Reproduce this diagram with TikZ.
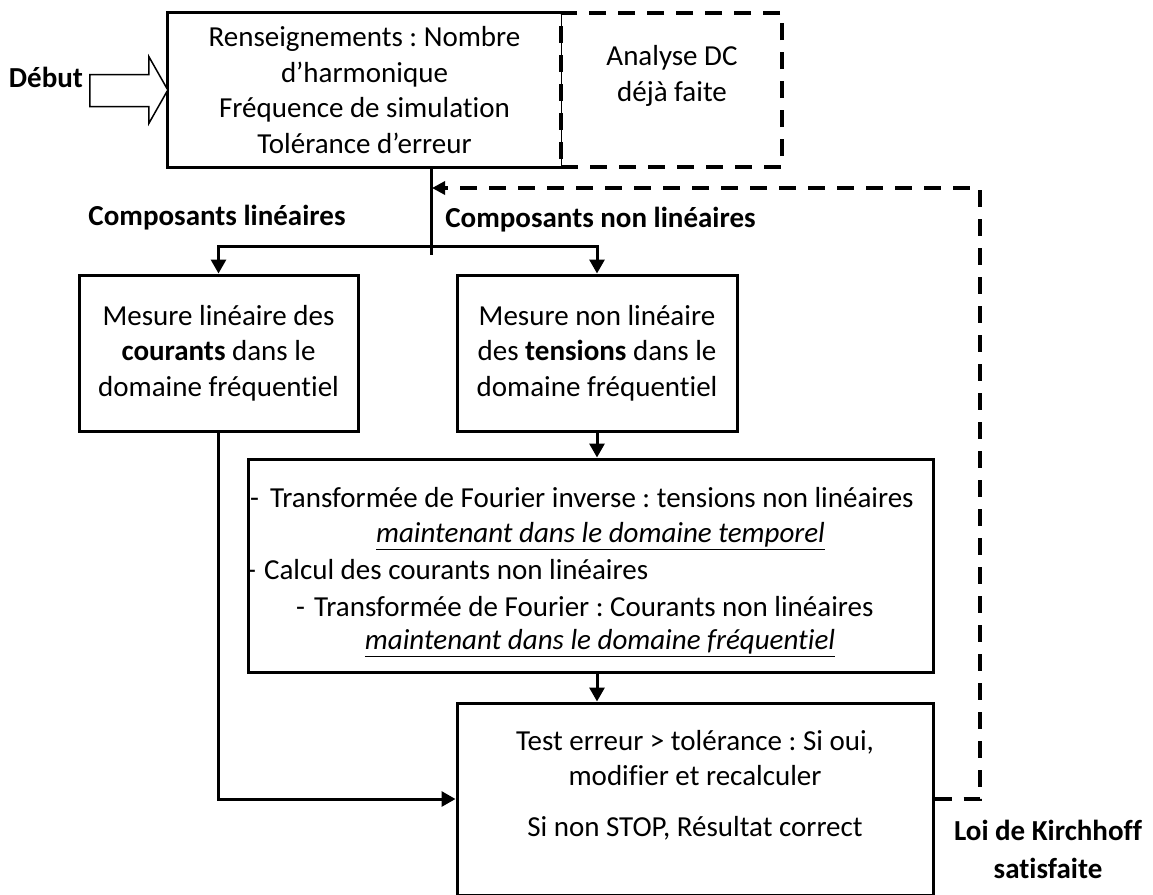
\documentclass[tikz,border=0pt]{standalone}
\usepackage{fontspec}
\setmainfont{Carlito}[Ligatures={NoCommon}]
\usetikzlibrary{arrows.meta}
\frenchspacing
\tikzset{
  every node/.style={font=\fontsize{29}{35.5}\selectfont, inner sep=0pt},
  blk/.style={draw=black, line width=3pt, inner sep=0pt, align=center},
  lbl/.style={font=\fontsize{29}{38}\selectfont\bfseries, align=center, inner sep=0pt},
  txt/.style={align=center, inner sep=0pt},
  conn/.style={line width=3pt},
  arr/.style={line width=3pt, -{Triangle[length=14pt,width=15pt]}},
  dsh/.style={line width=3.5pt, dash pattern=on 17pt off 12pt},
}
\begin{document}
\begin{tikzpicture}[x=1pt,y=-1pt]
\useasboundingbox (0,0) rectangle (1153,894);
\clip (0,0) rectangle (1153,894);

% top box
\node[txt, minimum width=393pt, minimum height=154pt] (top) at (364.5,90)
  {Renseignements : Nombre\\ d’harmonique\\ Fréquence de simulation\\ Tolérance d’erreur};
\draw[line width=3pt] (top.north east) -- (top.north west) -- (top.south west) -- (top.south east);
\draw[line width=1.2pt] (top.south east) -- (top.north east);

% dashed DC box
\node[draw, dsh, minimum width=221pt, minimum height=154pt] (dc) at (671.5,90) {};
\node[txt] (dctxt) at (672,76) {Analyse DC\\ déjà faite};

% start arrow
\node[lbl] (debut) at (46,77) {Début};
\draw[line width=1.5pt, fill=white] (top.west) -- ++(-19,-33.5) -- ++(0,18) -- ++(-59,0)
  -- ++(0,32) -- ++(59,0) -- ++(0,17) -- cycle;

% branch labels
\node[lbl] (cl) at (217,218) {Composants linéaires};
\node[lbl] (cnl) at (600.5,220) {Composants non linéaires};

\coordinate (split) at (431,246);
\coordinate (splitend) at (431,255);
\draw[conn] (top.south -| split) -- (splitend);

% measurement boxes
\node[blk, minimum width=279pt, minimum height=156pt] (lbox) at (218.5,353)
  {Mesure linéaire des\\ \textbf{courants} dans le\\ domaine fréquentiel};
\node[blk, minimum width=280pt, minimum height=156pt] (rbox) at (597,353)
  {Mesure non linéaire\\ des \textbf{tensions} dans le\\ domaine fréquentiel};
\draw[arr] (split) -| (lbox.north);
\draw[arr] (split) -| (rbox.north);

% big box
\node[blk, minimum width=685pt, minimum height=213pt] (big) at (590.5,565.5) {};
\node[anchor=west] (b1) at (250,498) {-\hspace{11pt}Transformée de Fourier inverse : tensions non linéaires};
\node (b2) at (600.5,536) {\underline{\textit{maintenant dans le domaine temporel}}};
\node[anchor=west] (b3) at (247,570) {-\hspace{8pt}Calcul des courants non linéaires};
\node[anchor=west] (b4) at (296,607) {-\hspace{9pt}Transformée de Fourier : Courants non linéaires};
\node (b5) at (600,643) {\underline{\textit{maintenant dans le domaine fréquentiel}}};
\draw[arr] (rbox.south) -- (rbox.south |- big.north);

% bottom box
\node[blk, minimum width=476pt, minimum height=192pt] (bot) at (695,799) {};
\node[txt] (bottxt) at (695,785) {Test erreur > tolérance : Si oui,\\ modifier et recalculer\\[15pt] Si non STOP, Résultat correct};
\draw[arr] (big.south -| rbox.south) -- (rbox.south |- bot.north);
\draw[arr] (lbox.south) |- (bot.west);

% feedback
\coordinate (fbR) at (980,188);
\coordinate (fbL) at (432,188);
\draw[dsh, -{Triangle[length=13pt,width=13pt]}] (bot.east) -| (fbR) -- (fbL);
\node[lbl] (kirch) at (1048,849) {Loi de Kirchhoff\\ satisfaite};
\end{tikzpicture}
\end{document}
